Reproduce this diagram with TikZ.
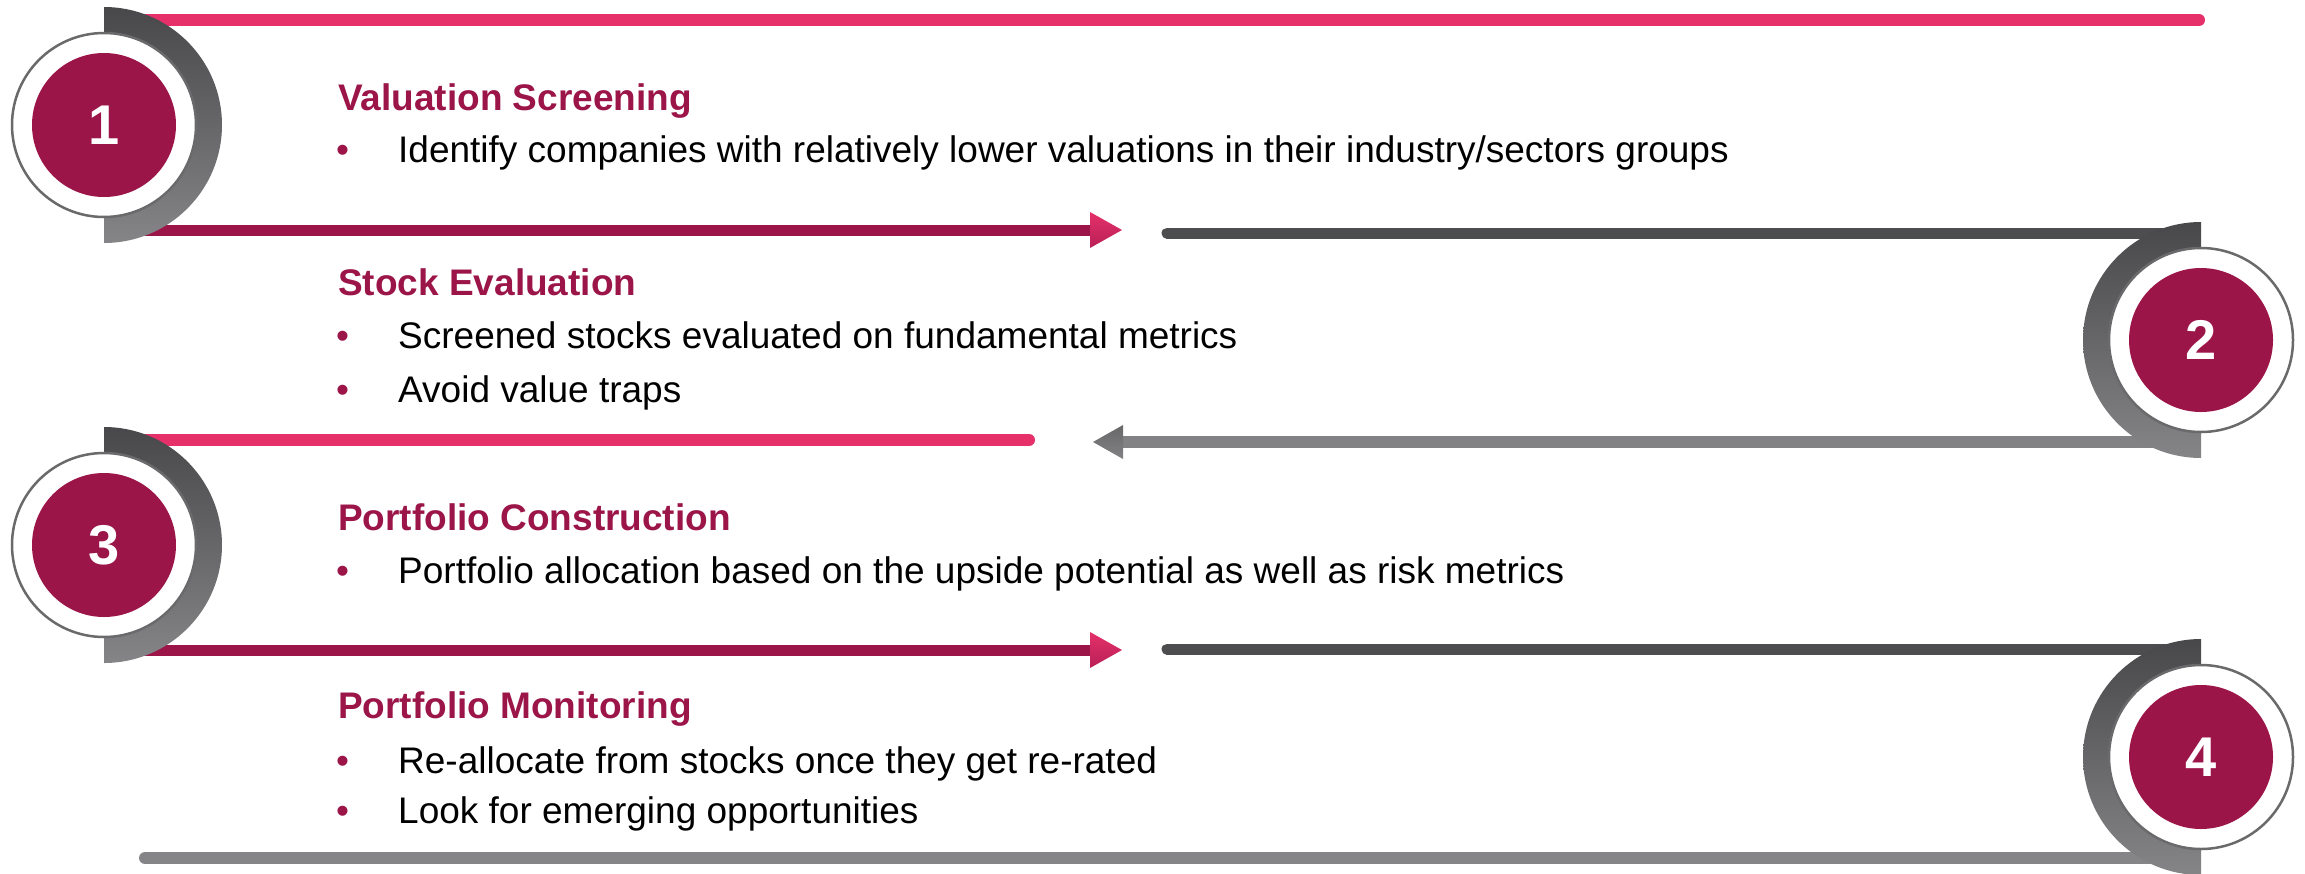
\documentclass[tikz,border=0pt]{standalone}
\usepackage{fontspec}
\setmainfont{Liberation Sans}
\definecolor{maroon}{HTML}{9B1548}
\definecolor{pinkc}{HTML}{E5306A}
\definecolor{dgrey}{HTML}{4D4D4F}
\definecolor{mgrey}{HTML}{828284}
\definecolor{lgrey}{HTML}{858587}
\definecolor{crtop}{HTML}{48484A}
\definecolor{crbot}{HTML}{858587}
\definecolor{ringgrey}{HTML}{6A6A6C}
\begin{document}
\begin{tikzpicture}[x=1pt,y=-1pt,
  title/.style={anchor=base west, font=\fontsize{37}{44}\selectfont\bfseries, text=maroon, inner sep=0pt},
  body/.style={anchor=base west, font=\fontsize{37}{44}\selectfont, text=black, inner sep=0pt},
  bul/.style={anchor=base west, font=\fontsize{37}{44}\selectfont, text=maroon, inner sep=0pt},
  num/.style={circle, fill=maroon, minimum size=144pt, inner sep=0pt, text=white, font=\fontsize{56}{60}\selectfont\bfseries},
  ring/.style={circle, fill=white, draw=ringgrey, line width=2.5pt, minimum size=184pt, inner sep=0pt},
  bar/.style={line width=12pt},
  crescent/.style={top color=crtop, bottom color=crbot},
]
\useasboundingbox (0,0) rectangle (2305,873);

% centres
\coordinate (p1) at (104,125);
\coordinate (p2) at (2201,340);
\coordinate (p3) at (104,545);
\coordinate (p4) at (2201,757);

% ---- connector lines ----
\coordinate (l1a) at (111,20);   \coordinate (l1b) at (2199,20);
\coordinate (l2a) at (104,230);  \coordinate (l2b) at (1092,230);
\coordinate (l3a) at (1167,233); \coordinate (l3b) at (2194,233);
\coordinate (l4a) at (2201,442); \coordinate (l4b) at (1121,442);
\coordinate (l5a) at (111,440);  \coordinate (l5b) at (1029,440);
\coordinate (l6a) at (104,650);  \coordinate (l6b) at (1092,650);
\coordinate (l7a) at (1167,649); \coordinate (l7b) at (2194,649);
\coordinate (l8a) at (145,858);  \coordinate (l8b) at (2194,858);

\draw[bar, pinkc, line cap=round] (l1a) -- (l1b);
\draw[line width=11pt, maroon] (l2a) -- (l2b);
\shade[top color=pinkc, bottom color=maroon!60!pinkc] (1090,212) -- (1122,230) -- (1090,248) -- cycle;
\draw[line width=11pt, dgrey, line cap=round] (l3a) -- (l3b);
\draw[bar, mgrey] (l4a) -- (l4b);
\shade[top color=dgrey!85!white, bottom color=mgrey] (1123,425) -- (1093,442) -- (1123,459) -- cycle;
\draw[bar, pinkc, line cap=round] (l5a) -- (l5b);
\draw[line width=11pt, maroon] (l6a) -- (l6b);
\shade[top color=pinkc, bottom color=maroon!60!pinkc] (1090,632) -- (1122,650) -- (1090,668) -- cycle;
\draw[line width=11pt, dgrey, line cap=round] (l7a) -- (l7b);
\draw[bar, lgrey, line cap=round] (l8a) -- (l8b);

% ---- crescents ----
\begin{scope}
  \clip (104,0) rectangle (260,260);
  \shade[crescent] (p1) circle[radius=118pt];
\end{scope}
\begin{scope}
  \clip (2040,210) rectangle (2201,470);
  \shade[crescent] (p2) circle[radius=118pt];
\end{scope}
\begin{scope}
  \clip (104,420) rectangle (260,680);
  \shade[crescent] (p3) circle[radius=118pt];
\end{scope}
\begin{scope}
  \clip (2040,630) rectangle (2201,873);
  \shade[crescent] (p4) circle[radius=118pt];
\end{scope}

% ---- number circles ----
\node[ring] (r1) at (p1) {};
\node[num]  (c1) at (p1) {1};
\node[ring] (r2) at (p2) {};
\node[num]  (c2) at (p2) {2};
\node[ring] (r3) at (p3) {};
\node[num]  (c3) at (p3) {3};
\node[ring] (r4) at (p4) {};
\node[num]  (c4) at (p4) {4};

% ---- texts ----
\node[title] (h1) at (338,110) {Valuation Screening};
\node[bul]   (d11) at (336,162) {•};
\node[body]  (s11) at (398,162) {Identify companies with relatively lower valuations in their industry/sectors groups};

\node[title] (h2) at (338,295) {Stock Evaluation};
\node[bul]   (d21) at (336,348) {•};
\node[body]  (s21) at (398,348) {Screened stocks evaluated on fundamental metrics};
\node[bul]   (d22) at (336,402) {•};
\node[body]  (s22) at (398,402) {Avoid value traps};

\node[title] (h3) at (338,530) {Portfolio Construction};
\node[bul]   (d31) at (336,583) {•};
\node[body]  (s31) at (398,583) {Portfolio allocation based on the upside potential as well as risk metrics};

\node[title] (h4) at (338,718) {Portfolio Monitoring};
\node[bul]   (d41) at (336,773) {•};
\node[body]  (s41) at (398,773) {Re-allocate from stocks once they get re-rated};
\node[bul]   (d42) at (336,823) {•};
\node[body]  (s42) at (398,823) {Look for emerging opportunities};
\end{tikzpicture}
\end{document}
